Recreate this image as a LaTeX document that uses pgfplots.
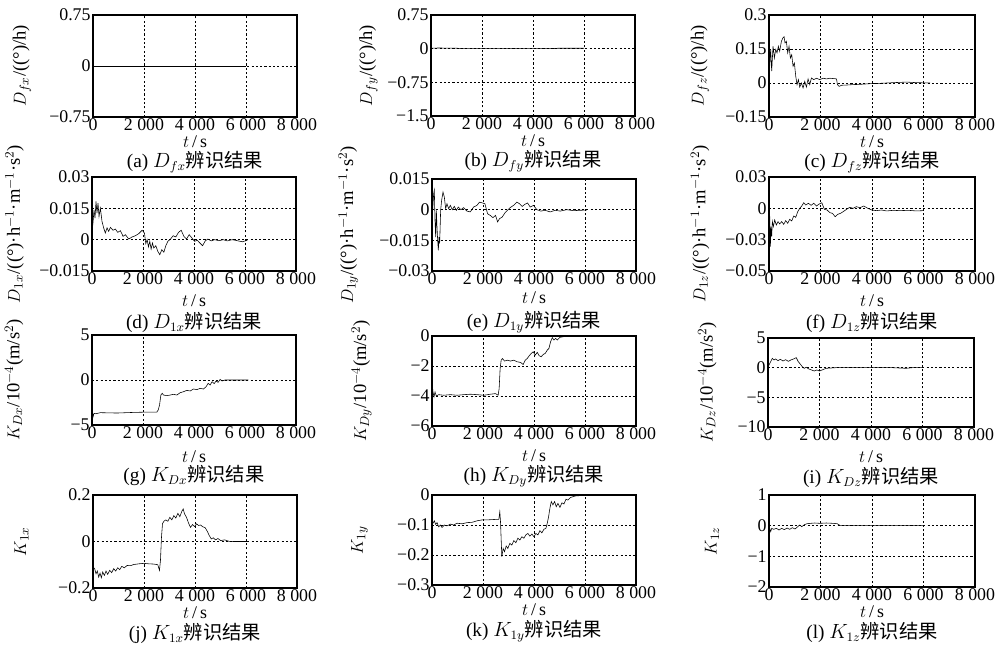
\documentclass[border=0pt]{standalone}
\usepackage{fontspec}
\setmainfont{Liberation Serif}
\newfontfamily\cjk{Noto Sans CJK SC}
\usepackage{pgfplots}
\pgfplotsset{compat=1.18}
\pgfplotsset{
  sub/.style={scale only axis, anchor=south west, width=142.8pt,
    xmin=0, xmax=8000, xtick={0,2000,4000,6000,8000},
    xticklabels={0,2 000,4 000,6 000,8 000},
    scaled y ticks=false, scaled x ticks=false,
    grid=major, major grid style={black, line width=0.5pt, dash pattern=on 1.5pt off 1.5pt},
    axis line style={line width=1.6pt}, major tick length=0pt,
    tick label style={font=\fontsize{12.5}{13}\selectfont},
    /pgf/number format/assume math mode=true,
    xticklabel style={inner sep=1pt}, yticklabel style={inner sep=1.5pt},
    every axis x label/.style={at={(axis description cs:0.5,0)}, anchor=center,
      font=\fontsize{12.5}{13}\selectfont},
    every axis y label/.style={rotate=90, anchor=center,
      font=\fontsize{13}{14}\selectfont},
    xlabel={$t$\,/\,s},
    cycle list={{black, line width=0.9pt, mark=none}}},
  yl/.style={ylabel style={at={(axis description cs:-#1,0.5)}}},
  xl/.style={xlabel style={yshift=-#1}}
}
\newcommand\capfont{\fontsize{13.5}{14}\selectfont}
\begin{document}
\begin{tikzpicture}
\useasboundingbox (0,0) rectangle (700pt,450.8pt);
% ---- row 1
\begin{axis}[sub, name=a, at={(65.1pt,368.9pt)}, height=71.4pt, yl=0.348, xl=17.5pt,
  ymin=-0.75, ymax=0.75, ytick={-0.75,0,0.75}, yticklabels={−0.75,0,0.75},
  ylabel={$D_{fx}$/((°)/h)}]
\addplot coordinates {(0,0) (6000,0)};
\end{axis}
\node[font=\capfont] at ([yshift=-31.5pt]a.south) {(a) $D_{fx}$\cjk 辨识结果};
\begin{axis}[sub, name=b, at={(301.7pt,369.6pt)}, height=70.7pt, yl=0.307, xl=17.5pt,
  ymin=-1.5, ymax=0.75, ytick={-1.5,-0.75,0,0.75}, yticklabels={−1.5,−0.75,0,0.75},
  ylabel={$D_{fy}$/((°)/h)}]
\addplot coordinates {(0,0.01) (300,0.015) (1000,0.01) (1300,0) (4700,0) (5000,0.01) (6000,0.01)};
\end{axis}
\node[font=\capfont] at ([yshift=-31.5pt]b.south) {(b) $D_{fy}$\cjk 辨识结果};
\begin{axis}[sub, name=c, at={(538.3pt,368.9pt)}, width=144.2pt, height=71.4pt, yl=0.335, xl=17.5pt,
  ymin=-0.15, ymax=0.3, ytick={-0.15,0,0.15,0.3}, yticklabels={−0.15,0,0.15,0.3},
  ylabel={$D_{fz}$/((°)/h)}]
\addplot coordinates {(0,0.03) (26,0.074) (65,0.148) (104,0.052) (156,0.162) (208,0.11) (259,0.148) (311,0.133)
 (363,0.162) (415,0.14) (480,0.184) (545,0.2) (584,0.204) (623,0.177) (674,0.184) (726,0.133) (778,0.162)
 (830,0.11) (882,0.125) (934,0.074) (986,0.088) (1038,0.03) (1089,-0.007) (1141,0.015) (1193,-0.018)
 (1258,0) (1323,-0.022) (1388,0.007) (1453,-0.018) (1517,0.018) (1582,-0.007) (1647,0.022) (1738,0.015)
 (1842,0.021) (1971,0.015) (2101,0.021) (2231,0.018) (2361,0.021) (2555,0.019) (2620,0.018) (2659,-0.007)
 (2724,-0.015) (2815,-0.01) (3009,-0.009) (3268,-0.007) (3528,-0.006) (3917,-0.003) (4306,-0.0015)
 (4825,0.0015) (5344,0.004) (5733,0.0015) (6252,0)};
\end{axis}
\node[font=\capfont] at ([yshift=-31.5pt]c.south) {(c) $D_{fz}$\cjk 辨识结果};
% ---- row 2
\begin{axis}[sub, name=d, at={(64.4pt,261.1pt)}, height=65.8pt, yl=0.379, xl=21pt,
  ymin=-0.015, ymax=0.03, ytick={-0.015,0,0.015,0.03}, yticklabels={−0.015,0,0.015,0.03},
  ylabel={$D_{1x}$/((°)·h$^{-1}$·m$^{-1}$·s$^{2}$)}]
\addplot coordinates {(0,0.004) (39,0.008) (79,0.0143) (118,0.0103) (157,0.0183) (197,0.0127) (236,0.0175)
 (275,0.0111) (328,0.0151) (393,0.0087) (459,0.0056) (524,0.0032) (590,0.0056) (655,0.004) (721,0.0059)
 (825,0.0045) (917,0.0051) (1009,0.0035) (1114,0.0043) (1218,0.0016) (1310,0.0024) (1441,0.0003)
 (1572,0.0013) (1703,0.0019) (1834,0.0029) (1965,0.0045) (2057,0.0032) (2109,-0.0019) (2162,0)
 (2214,-0.0035) (2266,-0.0008) (2319,-0.0045) (2371,-0.0016) (2424,-0.004) (2502,-0.0029) (2581,-0.0056)
 (2659,-0.0072) (2738,-0.0048) (2817,-0.006) (2895,-0.0029) (2974,-0.0008) (3079,0.0003) (3183,0.0019)
 (3288,0.0013) (3393,0.0035) (3498,0.0045) (3603,0.0016) (3707,0.0003) (3812,0.0024) (3917,0.0008)
 (4022,-0.0008) (4127,-0.0003) (4231,-0.0016) (4336,-0.0029) (4441,-0.0006) (4546,0.0003) (4677,-0.0006)
 (4808,0) (4978,-0.0005) (5148,0) (5306,-0.0006) (5502,0) (5699,-0.0005) (5895,-0.001) (6092,-0.0003)};
\end{axis}
\node[font=\capfont] at ([yshift=-36pt]d.south) {(d) $D_{1x}$\cjk 辨识结果};
\begin{axis}[sub, name=e, at={(302.4pt,261.1pt)}, height=64.4pt, yl=0.41, xl=19pt,
  ymin=-0.03, ymax=0.015, ytick={-0.03,-0.015,0,0.015}, yticklabels={−0.03,−0.015,0,0.015},
  ylabel={$D_{1y}$/((°)·h$^{-1}$·m$^{-1}$·s$^{2}$)}]
\addplot coordinates {(0,0) (26,-0.0003) (65,0.0078) (91,0.0095) (117,-0.0052) (144,-0.0134) (170,-0.0003)
 (196,-0.0085) (222,-0.015) (248,-0.0199) (274,-0.0134) (300,-0.0166) (339,-0.0003) (378,0.0046)
 (431,0.0086) (483,0.0062) (535,0.0005) (587,0.0029) (653,0.0005) (718,0.0021) (796,0) (874,0.0016)
 (953,-0.0003) (1031,0.0013) (1135,0) (1240,0.001) (1370,-0.0007) (1501,-0.0011) (1631,0.0013)
 (1762,0.0021) (1866,0.0037) (1971,0.0033) (2075,0.0029) (2179,-0.002) (2284,-0.0028) (2388,-0.0039)
 (2493,-0.0028) (2571,-0.006) (2649,-0.0044) (2754,-0.0036) (2858,-0.0016) (2962,-0.0003) (3067,0.001)
 (3197,0.0021) (3328,0.0037) (3432,0.0029) (3536,0.0016) (3641,0.0026) (3745,0.0033) (3850,0.0013)
 (3980,0.0021) (4111,0) (4267,-0.0007) (4437,-0.0003) (4633,-0.0011) (4829,-0.0003) (5024,-0.0007)
 (5285,0) (5546,-0.0005) (5807,-0.0003) (6068,-0.0002)};
\end{axis}
\node[font=\capfont] at ([yshift=-36pt]e.south) {(e) $D_{1y}$\cjk 辨识结果};
\begin{axis}[sub, name=f, at={(538.3pt,261.1pt)}, width=144.2pt, height=65.8pt, yl=0.335, xl=21pt,
  ymin=-0.06, ymax=0.03, ytick={-0.06,-0.03,0,0.03}, yticklabels={−0.05,−0.03,0,0.03},
  ylabel={$D_{1z}$/((°)·h$^{-1}$·m$^{-1}$·s$^{2}$)}]
\addplot coordinates {(0,-0.002) (26,-0.0064) (52,-0.0366) (78,-0.0175) (104,-0.027) (130,-0.0127)
 (169,-0.0175) (220,-0.0111) (285,-0.0159) (350,-0.0127) (415,-0.0149) (493,-0.0127) (571,-0.0153)
 (649,-0.0118) (726,-0.0143) (804,-0.0105) (882,-0.0121) (960,-0.0073) (1038,-0.0086) (1115,-0.0032)
 (1193,0) (1271,0.0022) (1349,0.0054) (1427,0.0032) (1530,0.0048) (1634,0.0029) (1738,0.0048)
 (1842,0.0022) (1946,0.0041) (2049,0.0054) (2153,-0.001) (2257,-0.0016) (2361,-0.0041) (2464,-0.0048)
 (2568,-0.008) (2672,-0.0057) (2776,-0.0048) (2879,-0.0032) (3009,-0.001) (3139,0.001) (3268,0)
 (3398,0.0016) (3528,0.0006) (3683,0.0022) (3839,0) (3995,-0.0016) (4176,-0.0022) (4371,-0.0016)
 (4565,-0.0025) (4825,-0.0019) (5084,-0.0022) (5408,-0.0019) (5733,-0.0025) (5992,-0.0022)};
\end{axis}
\node[font=\capfont] at ([yshift=-36pt]f.south) {(f) $D_{1z}$\cjk 辨识结果};
% ---- row 3
\begin{axis}[sub, name=g, at={(64.4pt,153.3pt)}, height=63pt, yl=0.382, xl=22pt,
  xmajorgrids=false, extra x ticks={2000}, extra x tick labels={},
  extra x tick style={xmajorgrids=true},
  ymin=-5, ymax=5, ytick={-5,0,5}, yticklabels={−5,0,5},
  ylabel={$K_{Dx}$/10$^{-4}$(m/s$^{2}$)}]
\addplot coordinates {(0,-3.3) (13,-3.33) (40,-4.1) (80,-3.7) (150,-3.75) (326,-3.63) (979,-3.67)
 (1631,-3.6) (2284,-3.56) (2545,-3.56) (2597,-3.33) (2649,-2.78) (2701,-1.67) (2754,-1.48) (2806,-1.67)
 (2936,-1.74) (3067,-1.67) (3197,-1.59) (3328,-1.67) (3458,-1.41) (3589,-1.3) (3719,-1.15) (3850,-1.22)
 (3980,-1.0) (4111,-1.07) (4241,-0.93) (4372,-1.0) (4476,-0.74) (4555,-0.37) (4633,-0.56) (4711,-0.19)
 (4789,-0.41) (4868,-0.11) (4946,-0.26) (5024,0.07) (5102,-0.11) (5220,0) (5546,0) (6134,0)};
\end{axis}
\node[font=\capfont] at ([yshift=-35pt]g.south) {(g) $K_{Dx}$\cjk 辨识结果};
\begin{axis}[sub, name=h, at={(302.4pt,152.6pt)}, height=63pt, yl=0.345, xl=21pt,
  ymin=-6, ymax=0, ytick={-6,-4,-2,0}, yticklabels={−6,−4,−2,0},
  ylabel={$K_{Dy}$/10$^{-4}$(m/s$^{2}$)}]
\addplot coordinates {(0,-3.06) (39,-3.73) (79,-4.06) (118,-3.73) (170,-4.0) (262,-3.91) (459,-3.95)
 (721,-3.91) (983,-3.95) (1245,-3.91) (1507,-3.88) (1769,-3.91) (2031,-3.95) (2293,-3.88) (2489,-3.84)
 (2594,-3.95) (2633,-3.5) (2672,-2.17) (2712,-1.61) (2764,-1.5) (2843,-1.67) (2948,-1.61) (3079,-1.67)
 (3210,-1.61) (3341,-1.72) (3472,-1.76) (3576,-1.9) (3655,-1.61) (3734,-1.5) (3812,-1.32) (3891,-1.16)
 (3969,-1.05) (4048,-1.27) (4127,-1.09) (4205,-1.32) (4284,-1.38) (4362,-1.23) (4441,-1.16) (4520,-0.94)
 (4585,-0.83) (4651,-0.38) (4716,-0.11) (4782,-0.27) (4847,-0.16) (4913,-0.27) (5017,-0.09) (5175,-0.04)
 (5568,-0.02) (6026,-0.02)};
\end{axis}
\node[font=\capfont] at ([yshift=-35pt]h.south) {(h) $K_{Dy}$\cjk 辨识结果};
\begin{axis}[sub, name=i, at={(537.6pt,151.9pt)}, width=144.2pt, height=62.3pt, yl=0.295, xl=21pt,
  ymin=-10, ymax=5, ytick={-10,-5,0,5}, yticklabels={−10,−5,0,5},
  ylabel={$K_{Dz}$/10$^{-4}$(m/s$^{2}$)}]
\addplot coordinates {(0,0.2) (39,0.45) (103,1.02) (168,1.58) (232,1.3) (297,1.47) (387,1.18) (477,1.41)
 (581,1.13) (684,1.35) (787,1.07) (890,1.3) (993,1.47) (1097,1.69) (1174,1.02) (1251,0.62) (1329,0.17)
 (1406,-0.11) (1484,0.06) (1587,-0.22) (1690,-0.39) (1793,-0.56) (1896,-0.39) (2000,-0.56) (2258,-0.11)
 (2645,0) (3548,0) (4838,0) (5354,-0.11) (5612,0) (6000,0)};
\end{axis}
\node[font=\capfont] at ([yshift=-35pt]i.south) {(i) $K_{Dz}$\cjk 辨识结果};
% ---- row 4
\begin{axis}[sub, name=j, at={(65.1pt,39.2pt)}, height=65.1pt, yl=0.35, xl=17pt,
  ymin=-0.2, ymax=0.2, ytick={-0.2,0,0.2}, yticklabels={−0.2,0,0.2},
  ylabel={$K_{1x}$}]
\addplot coordinates {(0,-0.11) (66,-0.117) (118,-0.139) (170,-0.127) (223,-0.153) (275,-0.136) (328,-0.156)
 (380,-0.131) (445,-0.146) (511,-0.127) (576,-0.141) (655,-0.124) (734,-0.134) (812,-0.117) (891,-0.127)
 (969,-0.113) (1048,-0.121) (1127,-0.107) (1231,-0.113) (1336,-0.103) (1467,-0.104) (1598,-0.099)
 (1795,-0.096) (1991,-0.094) (2188,-0.096) (2384,-0.097) (2541,-0.1) (2607,-0.124) (2646,-0.081)
 (2686,0.019) (2725,0.076) (2777,0.087) (2856,0.093) (2934,0.087) (3013,0.104) (3092,0.093) (3170,0.111)
 (3249,0.101) (3327,0.121) (3406,0.107) (3485,0.13) (3537,0.14) (3589,0.119) (3668,0.104) (3747,0.079)
 (3825,0.061) (3904,0.073) (3982,0.064) (4061,0.076) (4140,0.069) (4218,0.071) (4297,0.064) (4402,0.059)
 (4480,0.044) (4559,0.026) (4637,0.011) (4716,0.016) (4808,0.007) (4899,0.013) (5004,0.004) (5161,0.007)
 (5332,0.001) (5528,0) (6052,0)};
\end{axis}
\node[font=\capfont] at ([yshift=-32pt]j.south) {(j) $K_{1x}$\cjk 辨识结果};
\begin{axis}[sub, name=k, at={(302.4pt,41.3pt)}, height=63pt, yl=0.355, xl=17pt,
  ymin=-0.3, ymax=0, ytick={-0.3,-0.2,-0.1,0}, yticklabels={−0.3,−0.2,−0.1,0},
  ylabel={$K_{1y}$}]
\addplot coordinates {(0,-0.09) (39,-0.094) (92,-0.086) (144,-0.098) (197,-0.092) (262,-0.106) (328,-0.1)
 (393,-0.108) (485,-0.1) (590,-0.103) (721,-0.097) (852,-0.1) (983,-0.094) (1179,-0.096) (1376,-0.092)
 (1572,-0.091) (1769,-0.086) (1965,-0.083) (2162,-0.083) (2358,-0.082) (2555,-0.081) (2620,-0.081)
 (2659,-0.056) (2686,-0.089) (2738,-0.206) (2790,-0.178) (2843,-0.189) (2908,-0.17) (2974,-0.178)
 (3052,-0.161) (3131,-0.167) (3210,-0.152) (3288,-0.159) (3367,-0.144) (3445,-0.15) (3524,-0.139)
 (3603,-0.144) (3681,-0.133) (3760,-0.128) (3838,-0.137) (3917,-0.13) (3996,-0.139) (4074,-0.128)
 (4153,-0.133) (4232,-0.119) (4310,-0.126) (4389,-0.114) (4467,-0.111) (4520,-0.094) (4572,-0.072)
 (4624,-0.044) (4677,-0.022) (4742,-0.033) (4808,-0.022) (4873,-0.039) (4939,-0.028) (5017,-0.041)
 (5096,-0.026) (5175,-0.03) (5253,-0.014) (5332,-0.017) (5437,-0.008) (5633,-0.003) (5830,-0.002)
 (6092,-0.002)};
\end{axis}
\node[font=\capfont] at ([yshift=-32.5pt]k.south) {(k) $K_{1y}$\cjk 辨识结果};
\begin{axis}[sub, name=l, at={(538.3pt,39.9pt)}, width=144.2pt, height=64.4pt, yl=0.277, xl=17pt,
  ymin=-2, ymax=1, ytick={-2,-1,0,1}, yticklabels={−2,−1,0,1},
  ylabel={$K_{1z}$}]
\addplot coordinates {(0,-0.05) (26,-0.087) (65,-0.195) (104,-0.087) (182,-0.119) (285,-0.087) (389,-0.141)
 (493,-0.087) (597,-0.13) (700,-0.076) (804,-0.119) (908,-0.065) (1012,-0.108) (1115,-0.033) (1193,0.022)
 (1271,-0.033) (1375,0.033) (1479,0.065) (1608,0.076) (1777,0.087) (1971,0.076) (2231,0.087) (2490,0.076)
 (2646,0.065) (2750,0.011) (3009,0) (4825,0) (5992,0)};
\end{axis}
\node[font=\capfont] at ([yshift=-31.5pt]l.south) {(l) $K_{1z}$\cjk 辨识结果};
\end{tikzpicture}
\end{document}
